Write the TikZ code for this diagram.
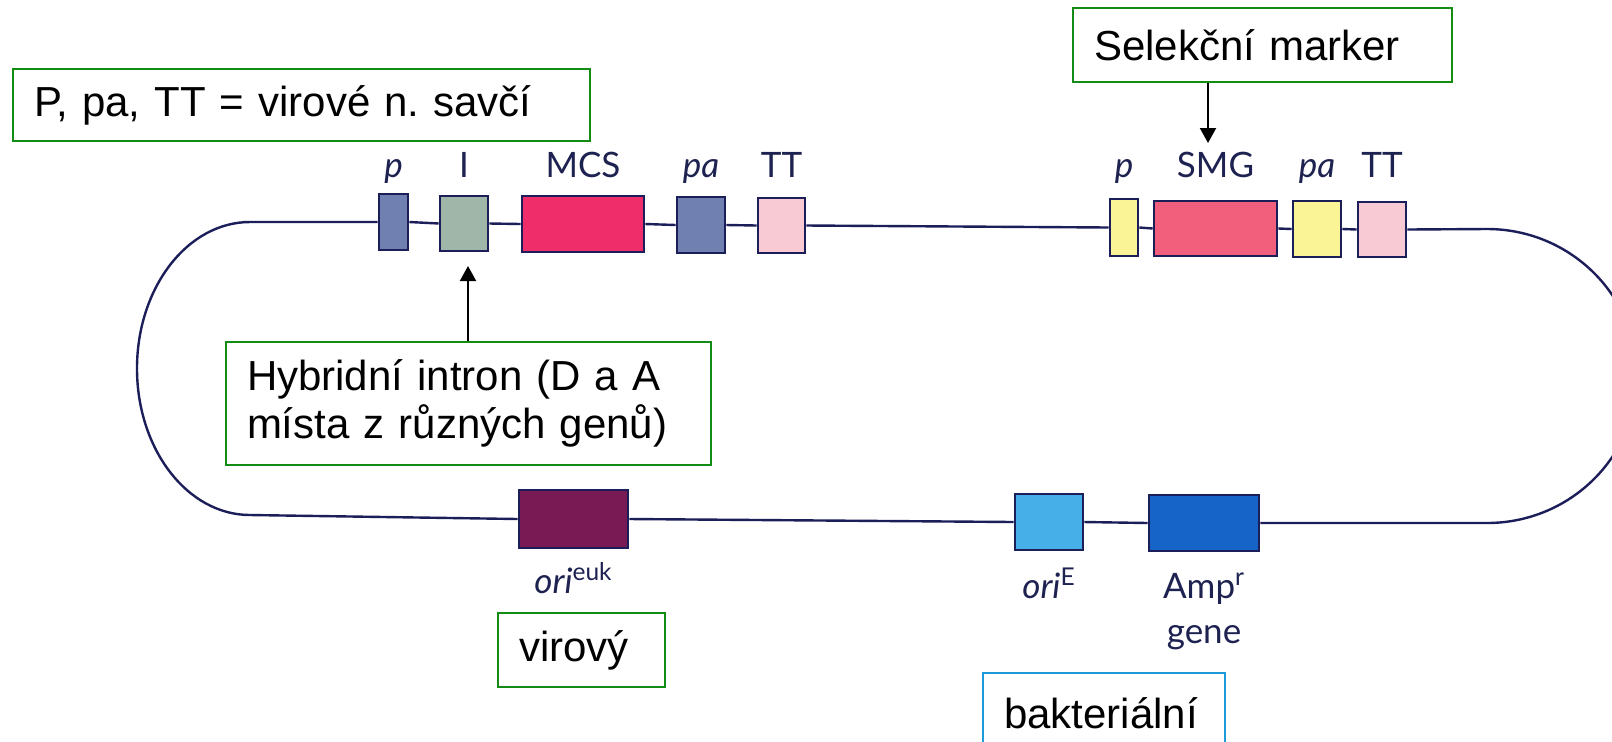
\documentclass[tikz,border=0pt]{standalone}
\usepackage{fontspec}
\newfontfamily\arial{Liberation Sans}
\newfontfamily\genefont{Lato}
\usetikzlibrary{arrows.meta}
\definecolor{dnablue}{RGB}{28,30,90}
\definecolor{lblblue}{RGB}{30,34,80}
\definecolor{boxgreen}{RGB}{20,140,20}
\definecolor{boxcyan}{RGB}{30,155,215}
\definecolor{promblue}{RGB}{112,128,176}
\definecolor{intgreen}{RGB}{160,182,168}
\definecolor{mcsred}{RGB}{238,45,106}
\definecolor{ttpink}{RGB}{248,202,212}
\definecolor{markyel}{RGB}{250,244,150}
\definecolor{smgred}{RGB}{242,95,125}
\definecolor{eukpurple}{RGB}{122,26,85}
\definecolor{orilight}{RGB}{70,175,232}
\definecolor{ampblue}{RGB}{22,100,200}
\tikzset{
  gene/.style={draw=dnablue, line width=1.3pt, inner sep=0pt},
  dna/.style={draw=dnablue, line width=1.2pt},
  lbl/.style={text=lblblue, font=\genefont\fontsize{17.5}{22.5}\selectfont, inner sep=0pt, anchor=base},
  callout/.style={draw=boxgreen, line width=1pt, fill=white, anchor=north west, align=left,
    inner xsep=10.5pt, inner ysep=0pt, font=\arial\fontsize{21}{24}\selectfont},
  pointer/.style={-{Triangle[length=7.5pt,width=8pt]}, line width=1pt},
}

\begin{document}
\begin{tikzpicture}[x=0.5pt,y=-0.5pt]
		\clip (0,0) rectangle (1612,741);
		\fill[white] (0,0) rectangle (1612,741);
		\foreach \n/\cx/\cy/\w/\h/\c in {p1/393.5/222/14.5/28/promblue, intron/464/223.5/24/27.5/intgreen,
			mcs/583/224/61/28/mcsred, pa1/701/225/24/28/promblue, tt1/781.5/225.5/23.5/27.5/ttpink,
			p2/1124/227.5/14/28.5/markyel, smg/1215.5/228.5/61.5/27.5/smgred, pa2/1317/229/24/28/markyel,
			tt2/1382/229.5/24/27.5/ttpink, orieuk/573.5/519/54.5/29/eukpurple,
			orie/1049/522/34/28/orilight, amp/1204/523/55/28/ampblue}
		{\node[gene, fill=\c, minimum width=\w pt, minimum height=\h pt] (\n) at (\cx,\cy) {};}
		
		\draw[dna] (p1.west) -- (250,222) arc[start angle=-90, end angle=-270, x radius=113, y radius=146.5] -- (orieuk.west);
		\draw[dna] (tt2.east) -- (1487,229) arc[start angle=-90, end angle=90, x radius=150, y radius=147] -- (amp.east);
		\foreach \a/\b in {p1/intron, intron/mcs, mcs/pa1, pa1/tt1, tt1/p2, p2/smg, smg/pa2, pa2/tt2, orieuk/orie, orie/amp}
		{\draw[dna] (\a.east) -- (\b.west);}
		
		\foreach \n/\t in {p1/\textit{p}, intron/I, mcs/MCS, pa1/\textit{pa}, tt1/TT,
			p2/\textit{p}, smg/SMG, pa2/\textit{pa}, tt2/TT}
		{\node[lbl] (\n-lbl) at (\n |- 0,177) {\t};}
		\node[lbl] (orieuk-lbl) at (orieuk |- 0,593) {\textit{ori}\textsuperscript{euk}};
		\node[lbl] (orie-lbl) at (orie |- 0,598) {\textit{ori}\textsuperscript{E}};
		\node[lbl, align=center] (amp-lbl) at (amp |- 0,643) {Amp\textsuperscript{r}\\gene};
		
		\node[callout, text width=267.5pt, minimum height=36pt] (savci) at (12,68) {P, pa, TT = virové n.\ savčí};
		\node[callout, text width=168.5pt, minimum height=37pt] (selekce) at (1072,7) {Selekční marker};
		\node[callout, text width=221.5pt, minimum height=61.5pt] (hybrid) at (225,341) {Hybridní intron (D a A\\místa z různých genů)};
		\node[callout, text width=62.5pt, minimum height=37pt] (virovy) at (497,612) {virový};
		\node[callout, draw=boxcyan, text width=100pt, minimum height=40pt] (bakter) at (982,672) {bakteriální};
		
		\coordinate (itip) at (468,266);
		\coordinate (stip) at (1208,143);
		\draw[pointer] (hybrid.north -| itip) -- (itip);
		\draw[pointer] (selekce.south -| stip) -- (stip);
\end{tikzpicture}
\end{document}
